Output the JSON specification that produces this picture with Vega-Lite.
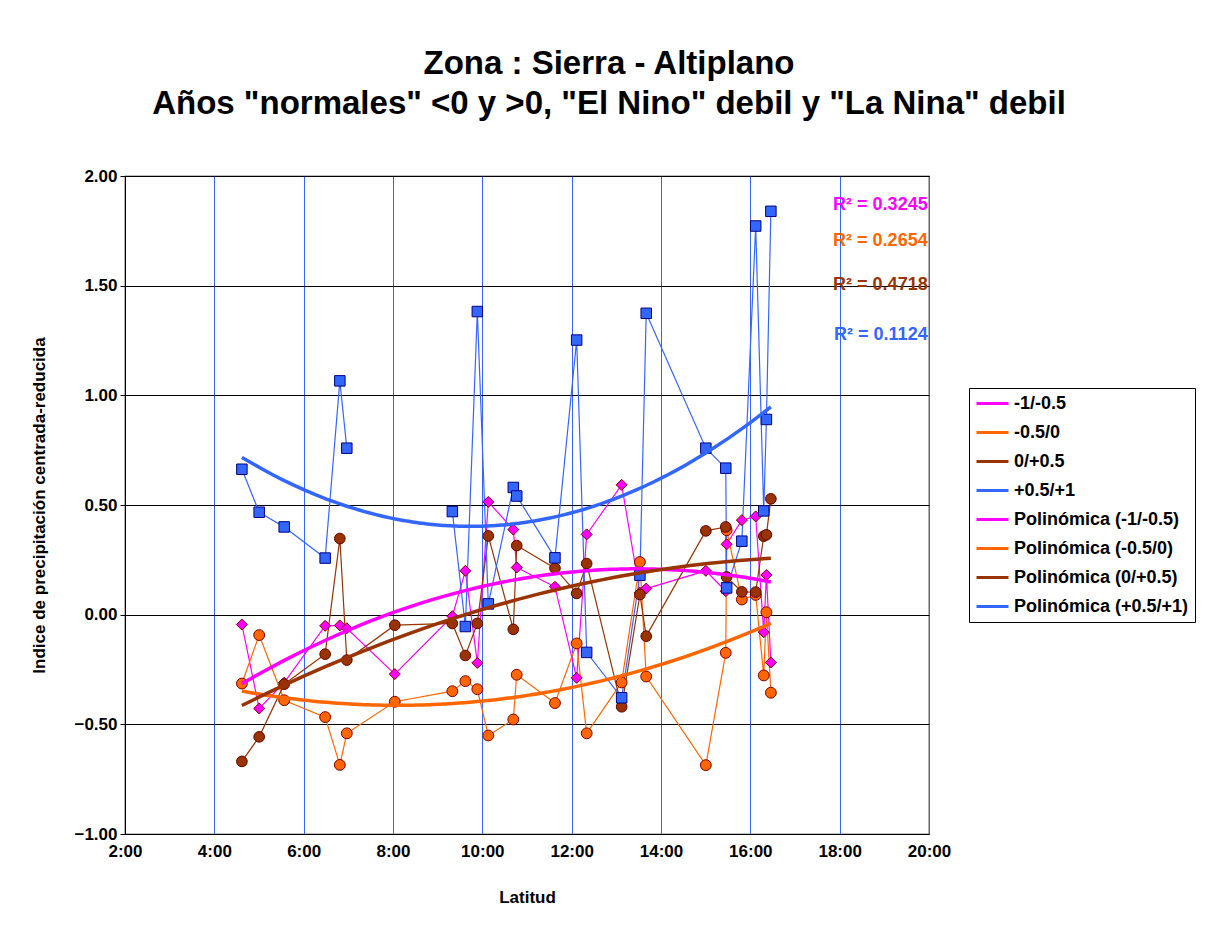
{
  "$schema": "https://vega.github.io/schema/vega-lite/v6.json",
  "width": 804,
  "height": 658,
  "autosize": "none",
  "padding": {"left": 125, "top": 176, "right": 287, "bottom": 95},
  "background": "white",
  "config": {
    "font": "Liberation Sans",
    "view": {"stroke": "black", "strokeWidth": 1.2}
  },
  "title": {
    "text": ["Zona : Sierra - Altiplano", "Años \"normales\" <0 y >0, \"El Nino\" debil y \"La Nina\" debil"],
    "fontSize": 33, "fontWeight": "bold", "font": "Liberation Sans", "color": "black",
    "anchor": "middle", "frame": "group", "dx": 82, "offset": 13, "baseline": "bottom", "lineHeight": 40
  },
  "data": {
    "values": [
      {"s": "-1/-0.5", "lat": 4.617, "v": -0.045}, {"s": "-1/-0.5", "lat": 5.004, "v": -0.428}, {"s": "-1/-0.5", "lat": 5.564, "v": -0.31},
      {"s": "-1/-0.5", "lat": 6.481, "v": -0.051}, {"s": "-1/-0.5", "lat": 6.81, "v": -0.049}, {"s": "-1/-0.5", "lat": 6.966, "v": -0.062},
      {"s": "-1/-0.5", "lat": 8.04, "v": -0.271}, {"s": "-1/-0.5", "lat": 9.329, "v": -0.007}, {"s": "-1/-0.5", "lat": 9.62, "v": 0.2},
      {"s": "-1/-0.5", "lat": 9.888, "v": -0.22}, {"s": "-1/-0.5", "lat": 10.134, "v": 0.514}, {"s": "-1/-0.5", "lat": 10.693, "v": 0.388},
      {"s": "-1/-0.5", "lat": 10.77, "v": 0.215}, {"s": "-1/-0.5", "lat": 11.626, "v": 0.127}, {"s": "-1/-0.5", "lat": 12.112, "v": -0.288},
      {"s": "-1/-0.5", "lat": 12.336, "v": 0.366}, {"s": "-1/-0.5", "lat": 13.119, "v": 0.592}, {"s": "-1/-0.5", "lat": 13.528, "v": 0.1},
      {"s": "-1/-0.5", "lat": 13.669, "v": 0.119}, {"s": "-1/-0.5", "lat": 15.004, "v": 0.2}, {"s": "-1/-0.5", "lat": 15.45, "v": 0.107},
      {"s": "-1/-0.5", "lat": 15.47, "v": 0.321}, {"s": "-1/-0.5", "lat": 15.81, "v": 0.431}, {"s": "-1/-0.5", "lat": 16.12, "v": 0.448},
      {"s": "-1/-0.5", "lat": 16.3, "v": -0.08}, {"s": "-1/-0.5", "lat": 16.36, "v": 0.181}, {"s": "-1/-0.5", "lat": 16.46, "v": -0.218},

      {"s": "-0.5/0", "lat": 4.617, "v": -0.314}, {"s": "-0.5/0", "lat": 5.004, "v": -0.093}, {"s": "-0.5/0", "lat": 5.564, "v": -0.39},
      {"s": "-0.5/0", "lat": 6.481, "v": -0.467}, {"s": "-0.5/0", "lat": 6.81, "v": -0.685}, {"s": "-0.5/0", "lat": 6.966, "v": -0.541},
      {"s": "-0.5/0", "lat": 8.04, "v": -0.397}, {"s": "-0.5/0", "lat": 9.329, "v": -0.349}, {"s": "-0.5/0", "lat": 9.62, "v": -0.303},
      {"s": "-0.5/0", "lat": 9.888, "v": -0.34}, {"s": "-0.5/0", "lat": 10.134, "v": -0.551}, {"s": "-0.5/0", "lat": 10.693, "v": -0.478},
      {"s": "-0.5/0", "lat": 10.77, "v": -0.274}, {"s": "-0.5/0", "lat": 11.626, "v": -0.403}, {"s": "-0.5/0", "lat": 12.112, "v": -0.131},
      {"s": "-0.5/0", "lat": 12.336, "v": -0.541}, {"s": "-0.5/0", "lat": 13.119, "v": -0.309}, {"s": "-0.5/0", "lat": 13.528, "v": 0.24},
      {"s": "-0.5/0", "lat": 13.669, "v": -0.282}, {"s": "-0.5/0", "lat": 15.004, "v": -0.686}, {"s": "-0.5/0", "lat": 15.45, "v": -0.174},
      {"s": "-0.5/0", "lat": 15.47, "v": 0.385}, {"s": "-0.5/0", "lat": 15.81, "v": 0.069}, {"s": "-0.5/0", "lat": 16.12, "v": 0.09},
      {"s": "-0.5/0", "lat": 16.3, "v": -0.277}, {"s": "-0.5/0", "lat": 16.36, "v": 0.011}, {"s": "-0.5/0", "lat": 16.46, "v": -0.356},

      {"s": "0/+0.5", "lat": 4.617, "v": -0.669}, {"s": "0/+0.5", "lat": 5.004, "v": -0.557}, {"s": "0/+0.5", "lat": 5.564, "v": -0.317},
      {"s": "0/+0.5", "lat": 6.481, "v": -0.18}, {"s": "0/+0.5", "lat": 6.81, "v": 0.347}, {"s": "0/+0.5", "lat": 6.966, "v": -0.207},
      {"s": "0/+0.5", "lat": 8.04, "v": -0.048}, {"s": "0/+0.5", "lat": 9.329, "v": -0.04}, {"s": "0/+0.5", "lat": 9.62, "v": -0.186},
      {"s": "0/+0.5", "lat": 9.888, "v": -0.04}, {"s": "0/+0.5", "lat": 10.134, "v": 0.359}, {"s": "0/+0.5", "lat": 10.693, "v": -0.067},
      {"s": "0/+0.5", "lat": 10.77, "v": 0.315}, {"s": "0/+0.5", "lat": 11.626, "v": 0.212}, {"s": "0/+0.5", "lat": 12.112, "v": 0.097},
      {"s": "0/+0.5", "lat": 12.336, "v": 0.233}, {"s": "0/+0.5", "lat": 13.119, "v": -0.42}, {"s": "0/+0.5", "lat": 13.528, "v": 0.092},
      {"s": "0/+0.5", "lat": 13.669, "v": -0.098}, {"s": "0/+0.5", "lat": 15.004, "v": 0.382}, {"s": "0/+0.5", "lat": 15.45, "v": 0.4},
      {"s": "0/+0.5", "lat": 15.47, "v": 0.172}, {"s": "0/+0.5", "lat": 15.81, "v": 0.104}, {"s": "0/+0.5", "lat": 16.12, "v": 0.103},
      {"s": "0/+0.5", "lat": 16.3, "v": 0.358}, {"s": "0/+0.5", "lat": 16.36, "v": 0.364}, {"s": "0/+0.5", "lat": 16.46, "v": 0.528},

      {"s": "+0.5/+1", "lat": 4.617, "v": 0.663}, {"s": "+0.5/+1", "lat": 5.004, "v": 0.467}, {"s": "+0.5/+1", "lat": 5.564, "v": 0.4},
      {"s": "+0.5/+1", "lat": 6.481, "v": 0.258}, {"s": "+0.5/+1", "lat": 6.81, "v": 1.066}, {"s": "+0.5/+1", "lat": 6.966, "v": 0.759},
      {"s": "+0.5/+1", "lat": 8.04, "v": null}, {"s": "+0.5/+1", "lat": 9.329, "v": 0.47}, {"s": "+0.5/+1", "lat": 9.62, "v": -0.054},
      {"s": "+0.5/+1", "lat": 9.888, "v": 1.382}, {"s": "+0.5/+1", "lat": 10.134, "v": 0.049}, {"s": "+0.5/+1", "lat": 10.693, "v": 0.58},
      {"s": "+0.5/+1", "lat": 10.77, "v": 0.541}, {"s": "+0.5/+1", "lat": 11.626, "v": 0.259}, {"s": "+0.5/+1", "lat": 12.112, "v": 1.252},
      {"s": "+0.5/+1", "lat": 12.336, "v": -0.172}, {"s": "+0.5/+1", "lat": 13.119, "v": -0.379}, {"s": "+0.5/+1", "lat": 13.528, "v": 0.18},
      {"s": "+0.5/+1", "lat": 13.669, "v": 1.374}, {"s": "+0.5/+1", "lat": 15.004, "v": 0.759}, {"s": "+0.5/+1", "lat": 15.45, "v": 0.668},
      {"s": "+0.5/+1", "lat": 15.47, "v": 0.122}, {"s": "+0.5/+1", "lat": 15.81, "v": 0.335}, {"s": "+0.5/+1", "lat": 16.12, "v": 1.772},
      {"s": "+0.5/+1", "lat": 16.3, "v": 0.473}, {"s": "+0.5/+1", "lat": 16.36, "v": 0.89}, {"s": "+0.5/+1", "lat": 16.46, "v": 1.839}
    ]
  },
  "layer": [
    {
      "mark": {"type": "line", "strokeWidth": 1.2},
      "encoding": {
        "x": {
          "field": "lat", "type": "quantitative",
          "scale": {"domain": [2, 20], "nice": false, "zero": false},
          "axis": {
            "values": [2, 4, 6, 8, 10, 12, 14, 16, 18, 20],
            "labelExpr": "datum.value + ':00'",
            "title": "Latitud",
            "grid": true, "gridColor": "#3366FF", "gridOpacity": 1, "gridWidth": 1,
            "ticks": false, "domain": false,
            "labelFlush": false, "labelOverlap": false,
            "labelFontSize": 17, "labelFontWeight": "bold", "labelColor": "black", "labelPadding": 9,
            "titleFontSize": 17, "titleFontWeight": "bold", "titleColor": "black", "titlePadding": 30
          }
        },
        "y": {
          "field": "v", "type": "quantitative",
          "scale": {"domain": [-1, 2], "nice": false, "zero": false},
          "axis": {
            "values": [-1, -0.5, 0, 0.5, 1, 1.5, 2],
            "format": ".2f",
            "title": "Indice de precipitación centrada-reducida",
            "grid": true, "gridColor": "black", "gridOpacity": 1, "gridWidth": 1,
            "tickColor": "black", "tickSize": 5, "domainColor": "black",
            "labelFlush": false, "labelOverlap": false,
            "labelFontSize": 17, "labelFontWeight": "bold", "labelColor": "black", "labelPadding": 3,
            "titleFontSize": 17, "titleFontWeight": "bold", "titleColor": "black", "titlePadding": 25
          }
        },
        "color": {
          "field": "s", "type": "nominal",
          "scale": {
            "domain": ["-1/-0.5", "-0.5/0", "0/+0.5", "+0.5/+1", "Polinómica (-1/-0.5)", "Polinómica (-0.5/0)", "Polinómica (0/+0.5)", "Polinómica (+0.5/+1)"],
            "range": ["#FF00FF", "#FF6600", "#993300", "#3366FF", "#FF00FF", "#FF6600", "#993300", "#3366FF"]
          },
          "legend": {
            "orient": "none", "legendX": 844, "legendY": 212, "title": null,
            "labelFontSize": 18, "labelFontWeight": "bold", "labelColor": "black", "labelFont": "Liberation Sans", "labelLimit": 400,
            "strokeColor": "black", "fillColor": "white", "padding": 6, "rowPadding": 10,
            "symbolSize": 256, "labelOffset": 20, "symbolStrokeWidth": 3, "symbolType": "M-1,0H3"
          }
        }
      }
    },
    {
      "mark": {"type": "point", "filled": true, "opacity": 1, "strokeWidth": 1},
      "encoding": {
        "x": {"field": "lat", "type": "quantitative"},
        "y": {"field": "v", "type": "quantitative"},
        "shape": {"field": "s", "type": "nominal", "scale": {"domain": ["-1/-0.5", "-0.5/0", "0/+0.5", "+0.5/+1"], "range": ["diamond", "circle", "circle", "square"]}, "legend": null},
        "fill": {"field": "s", "type": "nominal", "scale": {"domain": ["-1/-0.5", "-0.5/0", "0/+0.5", "+0.5/+1"], "range": ["#FF00FF", "#FF6600", "#993300", "#3366FF"]}, "legend": null},
        "stroke": {"field": "s", "type": "nominal", "scale": {"domain": ["-1/-0.5", "-0.5/0", "0/+0.5", "+0.5/+1"], "range": ["#800000", "#800000", "#660000", "#000080"]}, "legend": null},
        "size": {"field": "s", "type": "nominal", "scale": {"domain": ["-1/-0.5", "-0.5/0", "0/+0.5", "+0.5/+1"], "range": [121, 110, 110, 64]}, "legend": null}
      }
    },
    {
      "transform": [
        {"regression": "v", "on": "lat", "groupby": ["s"], "method": "poly", "order": 2},
        {"lookup": "s", "from": {"data": {"values": [
          {"s": "-1/-0.5", "t": "Polinómica (-1/-0.5)"},
          {"s": "-0.5/0", "t": "Polinómica (-0.5/0)"},
          {"s": "0/+0.5", "t": "Polinómica (0/+0.5)"},
          {"s": "+0.5/+1", "t": "Polinómica (+0.5/+1)"}
        ]}, "key": "s", "fields": ["t"]}}
      ],
      "mark": {"type": "line", "strokeWidth": 3.5},
      "encoding": {
        "x": {"field": "lat", "type": "quantitative"},
        "y": {"field": "v", "type": "quantitative"},
        "color": {"field": "t", "type": "nominal"}
      }
    },
    {
      "data": {"values": [{}]},
      "mark": {"type": "text", "align": "right", "baseline": "middle", "fontSize": 18, "fontWeight": "bold", "color": "#FF00FF"},
      "encoding": {"x": {"datum": 19.97}, "y": {"datum": 1.866}, "text": {"value": "R² = 0.3245"}}
    },
    {
      "data": {"values": [{}]},
      "mark": {"type": "text", "align": "right", "baseline": "middle", "fontSize": 18, "fontWeight": "bold", "color": "#FF6600"},
      "encoding": {"x": {"datum": 19.97}, "y": {"datum": 1.702}, "text": {"value": "R² = 0.2654"}}
    },
    {
      "data": {"values": [{}]},
      "mark": {"type": "text", "align": "right", "baseline": "middle", "fontSize": 18, "fontWeight": "bold", "color": "#993300"},
      "encoding": {"x": {"datum": 19.97}, "y": {"datum": 1.502}, "text": {"value": "R² = 0.4718"}}
    },
    {
      "data": {"values": [{}]},
      "mark": {"type": "text", "align": "right", "baseline": "middle", "fontSize": 18, "fontWeight": "bold", "color": "#3366FF"},
      "encoding": {"x": {"datum": 19.97}, "y": {"datum": 1.274}, "text": {"value": "R² = 0.1124"}}
    }
  ]
}
